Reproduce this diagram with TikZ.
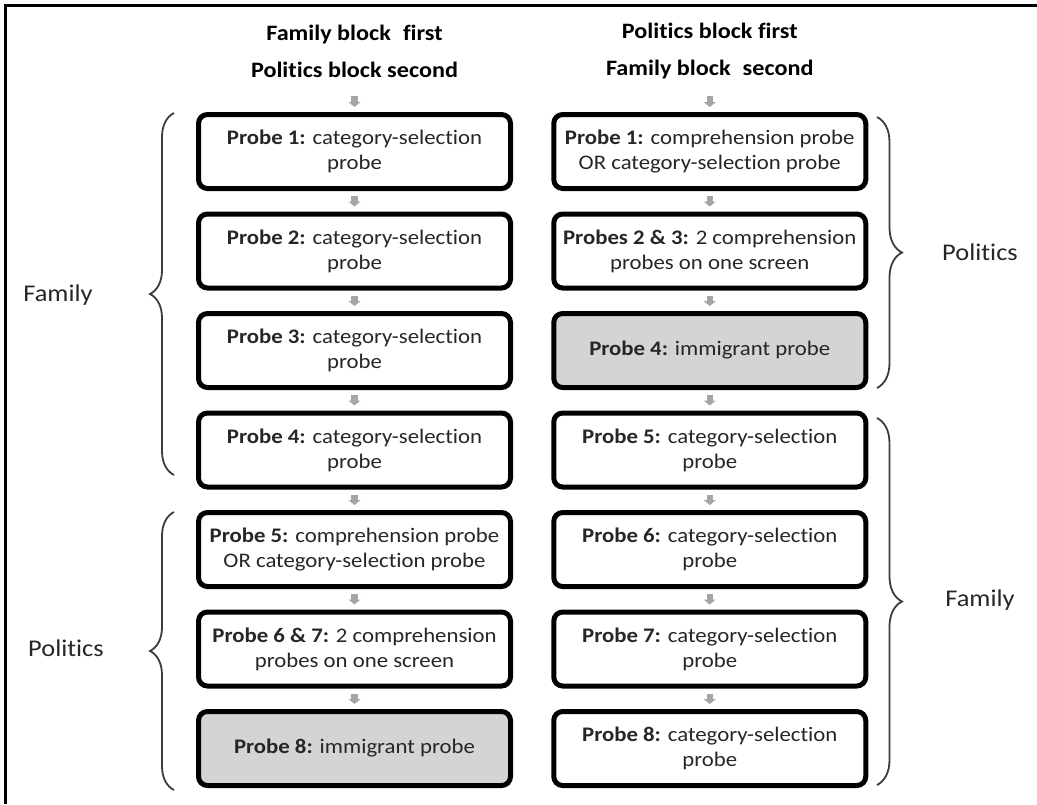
\documentclass[tikz,border=0pt]{standalone}
\usepackage{fontspec}
\setmainfont{Carlito}[FakeStretch=1.1, Ligatures=NoCommon]
\usetikzlibrary{arrows.meta,decorations.pathreplacing}

\definecolor{flowgray}{RGB}{165,165,165}
\definecolor{immfill}{RGB}{212,212,212}
\definecolor{bracegray}{RGB}{60,60,60}

\tikzset{
  probe/.style={draw=black, line width=5pt, rounded corners=9pt, minimum width=312pt,
    minimum height=74pt, align=center, text=black!85, inner sep=0pt,
    font=\fontsize{20.7}{25}\selectfont},
  immprobe/.style={probe, fill=immfill},
  flow/.style={draw=flowgray, line width=6.5pt, -{Triangle[width=12pt,length=5pt]},
    shorten <=5pt, shorten >=5pt},
  grp/.style={draw=bracegray, line width=1.8pt, decorate, decoration={brace, amplitude=#1}},
  grplabel/.style={font=\fontsize{24}{28}\selectfont, text=black!85},
  head/.style={font=\bfseries\fontsize{22}{37}\selectfont, align=center, text=black}
}

\begin{document}
\begin{tikzpicture}[x=1pt, y=-1pt]
\useasboundingbox (0,0) rectangle (1037,804);
\draw [line width=2.5pt] (5.5,804) -- (5.5,5.5) -- (1037,5.5);

\begin{scope} [xshift=354.5pt]
\node [head] (Lhead) at (0,51.5) {Family block\hspace{0.3em} first\\Politics block second};
\coordinate (Ltop) at (0,96);
\node [probe] (L1) at (0,151.5) {\textbf{Probe 1:} category-selection\\probe};
\node [probe] (L2) at (0,251) {\textbf{Probe 2:} category-selection\\probe};
\node [probe] (L3) at (0,350.5) {\textbf{Probe 3:} category-selection\\probe};
\node [probe] (L4) at (0,450) {\textbf{Probe 4:} category-selection\\probe};
\node [probe] (L5) at (0,549.5) {\textbf{Probe 5:} comprehension probe\\OR category-selection probe};
\node [probe] (L6) at (0,649) {\textbf{Probe 6 \& 7:} 2 comprehension\\probes on one screen};
\node [immprobe] (L7) at (0,748.5) {\textbf{Probe 8:} immigrant probe};
\end{scope}

\begin{scope} [xshift=709.75pt]
\node [head] (Rhead) at (0,51.5) {Politics block first\\Family block\hspace{0.3em} second};
\coordinate (Rtop) at (0,96);
\node [probe] (R1) at (0,151.5) {\textbf{Probe 1:} comprehension probe\\OR category-selection probe};
\node [probe] (R2) at (0,251) {\textbf{Probes 2 \& 3:} 2 comprehension\\probes on one screen};
\node [immprobe] (R3) at (0,350.5) {\textbf{Probe 4:} immigrant probe};
\node [probe] (R4) at (0,450) {\textbf{Probe 5:} category-selection\\probe};
\node [probe] (R5) at (0,549.5) {\textbf{Probe 6:} category-selection\\probe};
\node [probe] (R6) at (0,649) {\textbf{Probe 7:} category-selection\\probe};
\node [probe] (R7) at (0,748.5) {\textbf{Probe 8:} category-selection\\probe};
\end{scope}

\draw [flow, shorten <=0pt] (Ltop) -- (L1);
\draw [flow] (L1) -- (L2);
\draw [flow] (L2) -- (L3);
\draw [flow] (L3) -- (L4);
\draw [flow] (L4) -- (L5);
\draw [flow] (L5) -- (L6);
\draw [flow] (L6) -- (L7);

\draw [flow, shorten <=0pt] (Rtop) -- (R1);
\draw [flow] (R1) -- (R2);
\draw [flow] (R2) -- (R3);
\draw [flow] (R3) -- (R4);
\draw [flow] (R4) -- (R5);
\draw [flow] (R5) -- (R6);
\draw [flow] (R6) -- (R7);

\draw [grp=24pt] (174,475) -- (174,113);
\draw [grp=24pt] (174,790) -- (174,512);
\draw [grp=25pt] (877,117) -- (877,388);
\draw [grp=25pt] (877,418) -- (877,785);

\node [grplabel] (famL) at (58,295) {Family};
\node [grplabel] (polL) at (66,648) {Politics};
\node [grplabel] (polR) at (980,252) {Politics};
\node [grplabel] (famR) at (980,600) {Family};
\end{tikzpicture}
\end{document}
